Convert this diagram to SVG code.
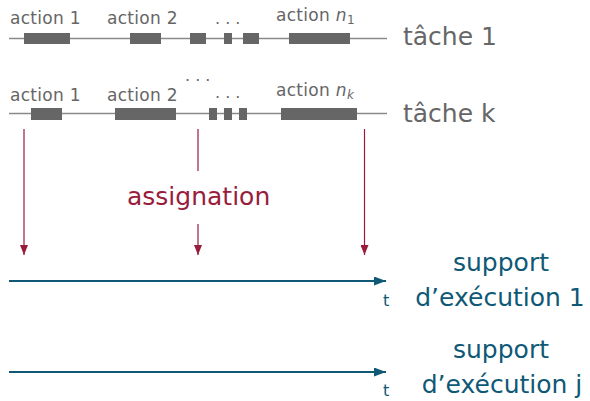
<svg xmlns="http://www.w3.org/2000/svg" width="590" height="401" viewBox="0 0 590 401">
  <style>
    text { font-family: "DejaVu Sans", "Liberation Sans", sans-serif; }
    .act { font-size: 17px; fill: #666666; letter-spacing: 0.3px; }
    .dots { font-size: 16px; fill: #666666; }
    .task { font-size: 25px; fill: #666666; }
    .timeline { stroke: #8a8a8a; stroke-width: 1.3; fill: none; }
    .bar { fill: #666666; }
    .assign { stroke: #981c3c; stroke-width: 1.2; fill: none; }
    .axis { stroke: #0f5876; stroke-width: 2; fill: none; }
    .lbl-red { font-size: 25px; fill: #981c3c; }
    .lbl-blue { font-size: 25px; fill: #0f5876; }
    .tick { font-size: 16px; fill: #0f5876; }
  </style>
  <defs>
    <marker id="head-red" markerUnits="userSpaceOnUse" markerWidth="8" markerHeight="10" refX="4" refY="10" orient="0" viewBox="0 0 8 10">
      <path d="M0,0 L8,0 L4,10 z" fill="#981c3c"/>
    </marker>
    <marker id="head-blue" markerUnits="userSpaceOnUse" markerWidth="12" markerHeight="9" refX="12" refY="4.5" orient="auto" viewBox="0 0 12 9">
      <path d="M0,0 L12,4.5 L0,9 z" fill="#0f5876"/>
    </marker>
  </defs>

  <!-- task 1 -->
  <g id="tache-1">
    <line class="timeline" x1="9" y1="38.5" x2="387" y2="38.5"/>
    <rect class="bar" x="24" y="33" width="46" height="11"/>
    <rect class="bar" x="130" y="33" width="31" height="11"/>
    <rect class="bar" x="190" y="33" width="16" height="11"/>
    <rect class="bar" x="224" y="33" width="8" height="11"/>
    <rect class="bar" x="243" y="33" width="16" height="11"/>
    <rect class="bar" x="289" y="33" width="61" height="11"/>
    <text class="act" x="10" y="24">action 1</text>
    <text class="act" x="107" y="24">action 2</text>
    <text class="dots" x="215" y="24">. . .</text>
    <text class="act" x="276" y="21">action <tspan font-style="italic">n</tspan><tspan font-size="12px" dy="3">1</tspan></text>
    <text class="task" x="403" y="45">tâche 1</text>
  </g>

  <!-- task k -->
  <g id="tache-k">
    <line class="timeline" x1="9" y1="113.5" x2="387" y2="113.5"/>
    <rect class="bar" x="31" y="108" width="31" height="12"/>
    <rect class="bar" x="115" y="108" width="61" height="12"/>
    <rect class="bar" x="209" y="108" width="8" height="12"/>
    <rect class="bar" x="224" y="108" width="8" height="12"/>
    <rect class="bar" x="239" y="108" width="8" height="12"/>
    <rect class="bar" x="281" y="108" width="76" height="12"/>
    <text class="act" x="10" y="100.5">action 1</text>
    <text class="act" x="107" y="100.5">action 2</text>
    <text class="dots" x="185" y="81">. . .</text>
    <text class="dots" x="215" y="98">. . .</text>
    <text class="act" x="276" y="95.5">action <tspan font-style="italic">n</tspan><tspan font-size="12px" font-style="italic" dy="3">k</tspan></text>
    <text class="task" x="403" y="122">tâche k</text>
  </g>

  <!-- assignment label -->
  <g id="assignation">
    <text class="lbl-red" x="127" y="205">assignation</text>
  </g>

  <!-- execution supports -->
  <g id="support-1">
    <text class="tick" x="383" y="306">t</text>
    <text class="lbl-blue" x="501" y="271" text-anchor="middle">support</text>
    <text class="lbl-blue" x="500" y="306" text-anchor="middle">d’exécution 1</text>
  </g>
  <g id="support-j">
    <text class="tick" x="383" y="396">t</text>
    <text class="lbl-blue" x="501" y="358" text-anchor="middle">support</text>
    <text class="lbl-blue" x="502" y="393" text-anchor="middle">d’exécution j</text>
  </g>

  <!-- connectors -->
  <g id="connectors">
    <line class="assign" x1="24" y1="129" x2="24" y2="255" marker-end="url(#head-red)"/>
    <line class="assign" x1="198" y1="129" x2="198" y2="171"/>
    <line class="assign" x1="198" y1="224" x2="198" y2="255" marker-end="url(#head-red)"/>
    <line class="assign" x1="364.5" y1="129" x2="364.5" y2="255" marker-end="url(#head-red)"/>
    <line class="axis" x1="9" y1="281" x2="386" y2="281" marker-end="url(#head-blue)"/>
    <line class="axis" x1="9" y1="372" x2="386" y2="372" marker-end="url(#head-blue)"/>
  </g>
</svg>
